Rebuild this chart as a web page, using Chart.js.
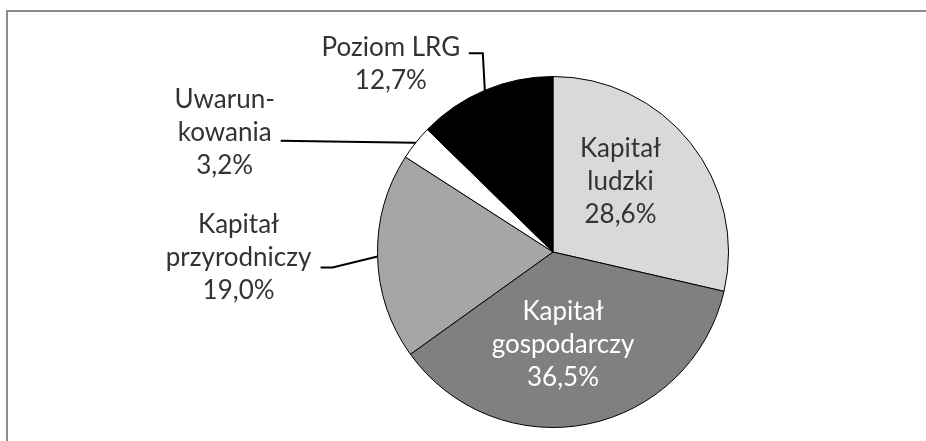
<!DOCTYPE html>
<html>
<head>
<meta charset="utf-8">
<script src="https://cdn.jsdelivr.net/npm/chart.js@4"></script>
<style>
  html, body { margin: 0; padding: 0; background: #fff; }
  #wrap { position: relative; width: 926px; height: 441px; overflow: hidden; }
  #frame {
    position: absolute; left: 6px; top: 10px; width: 1000px; height: 1000px;
    border-left: 2px solid #8b8b8b; border-top: 2px solid #8b8b8b;
  }
  canvas { position: absolute; left: 0; top: 0; }
</style>
</head>
<body>
<div id="wrap">
  <div id="frame"></div>
  <canvas id="pieChart" width="926" height="441"></canvas>
</div>
<script>
// udział składników (w %), zgodnie z ruchem wskazówek zegara od góry
const categories = ['Kapitał ludzki', 'Kapitał gospodarczy', 'Kapitał przyrodniczy', 'Uwarunkowania', 'Poziom LRG'];
const labelLines = [['Kapitał', 'ludzki'], ['Kapitał', 'gospodarczy'], ['Kapitał', 'przyrodniczy'], ['Uwarun-', 'kowania'], ['Poziom LRG']];
const values = [28.6, 36.5, 19.0, 3.2, 12.7];
const colors = ['#d9d9d9', '#808080', '#a6a6a6', '#ffffff', '#000000'];

// rozmieszczenie etykiet: wewnątrz wycinka albo na zewnątrz z linią odniesienia
const labelPlacement = [
  { inside: true, frac: 0.55, dx: -8, dy: -10, color: '#333333' },
  { inside: true, frac: 0.55, dx: -9, dy: -2, color: '#ffffff' },
  { inside: false, elbow: [-45, 11], end: [-57, 11], text: [-139, -32], color: '#333333' },
  { inside: false, elbow: [-70, -1], end: [-135, -2], text: [-191, -43], color: '#333333' },
  { inside: false, elbow: [-2, -37], end: [-16, -37], text: [-94, -43], color: '#333333' },
];

const FONT = '26px Lato, "Open Sans", sans-serif';
const LINE_H = 33;

function percentText(v) {
  return v.toFixed(1).replace('.', ',') + '%';
}

const sliceLabels = {
  id: 'sliceLabels',
  afterDatasetsDraw(chart) {
    const ctx = chart.ctx;
    const arcs = chart.getDatasetMeta(0).data;
    ctx.save();
    ctx.font = FONT;
    ctx.textAlign = 'center';
    ctx.textBaseline = 'middle';
    arcs.forEach((arc, i) => {
      const p = labelPlacement[i];
      const { x, y, startAngle, endAngle, outerRadius } =
        arc.getProps(['x', 'y', 'startAngle', 'endAngle', 'outerRadius'], true);
      const mid = (startAngle + endAngle) / 2;
      const lines = labelLines[i].concat(percentText(values[i]));
      let cx, firstY;
      if (p.inside) {
        cx = x + Math.cos(mid) * outerRadius * p.frac + p.dx;
        const cy = y + Math.sin(mid) * outerRadius * p.frac + p.dy;
        firstY = cy - (lines.length - 1) * LINE_H / 2;
      } else {
        const ex = x + Math.cos(mid) * outerRadius;
        const ey = y + Math.sin(mid) * outerRadius;
        ctx.beginPath();
        ctx.moveTo(ex, ey);
        ctx.lineTo(ex + p.elbow[0], ey + p.elbow[1]);
        ctx.lineTo(ex + p.end[0], ey + p.end[1]);
        ctx.strokeStyle = '#000';
        ctx.lineWidth = 2;
        ctx.stroke();
        cx = ex + p.text[0];
        firstY = ey + p.text[1];
      }
      ctx.fillStyle = p.color;
      lines.forEach((t, k) => ctx.fillText(t, cx, firstY + k * LINE_H));
    });
    ctx.restore();
  }
};

const ctx = document.getElementById('pieChart').getContext('2d');
const chart = new Chart(ctx, {
  type: 'pie',
  data: {
    labels: categories,
    datasets: [
      {
        data: values,
        backgroundColor: colors,
        borderColor: '#000000',
        borderWidth: 1,
      },
    ],
  },
  options: {
    responsive: false,
    animation: false,
    devicePixelRatio: 1,
    layout: { padding: { top: 76, bottom: 13, left: 377, right: 197 } },
    plugins: {
      legend: { display: false },
      tooltip: { enabled: false },
    },
  },
  plugins: [sliceLabels],
});
</script>
</body>
</html>
